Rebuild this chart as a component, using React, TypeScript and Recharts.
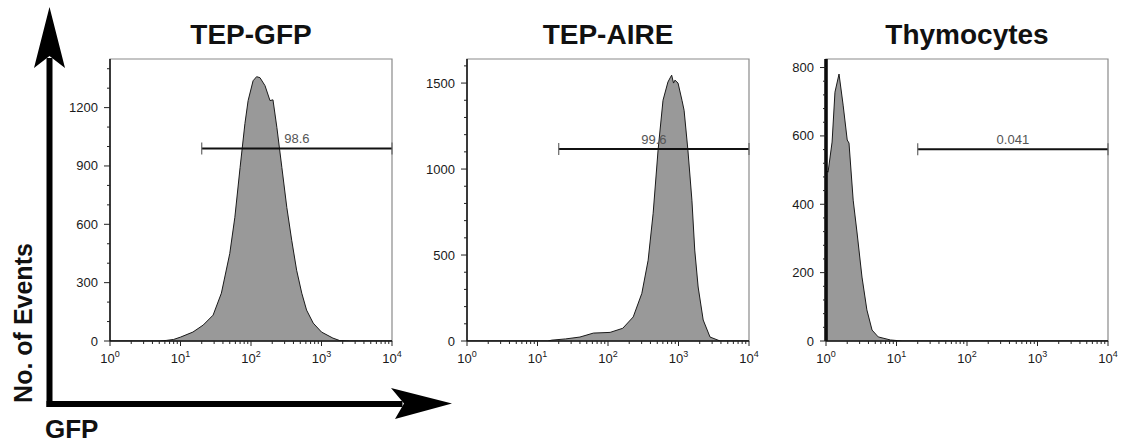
import { Area, ComposedChart, ReferenceArea, ReferenceLine, XAxis, YAxis } from 'recharts';

const FONT = '"Liberation Sans", Arial, Helvetica, sans-serif';

// GFP intensity (log axis) and event counts
const gfpTepGfp = [1, 5, 6.3, 8, 10, 15, 21, 29, 38, 50, 59, 70, 82, 91, 107, 120, 134, 158, 186, 205, 233, 274, 322, 378, 444, 525, 614, 763, 1000, 1450, 1820, 2500, 10000];
const countTepGfp = [0, 0, 3, 8, 20, 46, 82, 133, 246, 450, 636, 892, 1118, 1236, 1338, 1359, 1354, 1313, 1236, 1240, 1097, 892, 687, 518, 364, 246, 159, 92, 46, 15, 2, 0, 0];

const gfpTepAire = [1, 14, 16, 25, 40, 62, 107, 162, 228, 302, 371, 437, 513, 603, 708, 760, 800, 850, 891, 985, 1120, 1200, 1360, 1550, 1700, 1900, 2240, 2800, 3900, 10000];
const countTepAire = [0, 0, 5, 12, 23, 46, 50, 74, 140, 277, 470, 743, 1110, 1400, 1506, 1530, 1546, 1500, 1517, 1500, 1400, 1342, 1110, 819, 529, 314, 122, 23, 0, 0];

const gfpThymocytes = [1, 1.07, 1.22, 1.34, 1.53, 1.75, 2.0, 2.12, 2.43, 2.76, 3.24, 3.8, 4.5, 5.5, 8.2, 12, 10000];
const countThymocytes = [500, 494, 582, 728, 781, 690, 588, 579, 412, 316, 187, 91, 32, 12, 3, 0, 0];

const xTicks = [1, 2, 3, 4, 5, 6, 7, 8, 9, 10, 20, 30, 40, 50, 60, 70, 80, 90, 100, 200, 300, 400, 500, 600, 700, 800, 900, 1000, 2000, 3000, 4000, 5000, 6000, 7000, 8000, 9000, 10000];
const xMajor = [1, 10, 100, 1000, 10000];

const yTicksTepGfp = [0, 100, 200, 300, 400, 500, 600, 700, 800, 900, 1000, 1100, 1200, 1300, 1400];
const yMajorTepGfp = [0, 300, 600, 900, 1200];
const yTicksTepAire = [0, 100, 200, 300, 400, 500, 600, 700, 800, 900, 1000, 1100, 1200, 1300, 1400, 1500, 1600];
const yMajorTepAire = [0, 500, 1000, 1500];
const yTicksThymocytes = [0, 40, 80, 120, 160, 200, 240, 280, 320, 360, 400, 440, 480, 520, 560, 600, 640, 680, 720, 760, 800];
const yMajorThymocytes = [0, 200, 400, 600, 800];

const gateStart = 20;
const gateEnd = 10000;

const panels = [
  { title: 'TEP-GFP', x: gfpTepGfp, y: countTepGfp, yMax: 1450, yTicks: yTicksTepGfp, yMajor: yMajorTepGfp, gate: 990, gateLabel: '98.6', left: 50, pileUp: false },
  { title: 'TEP-AIRE', x: gfpTepAire, y: countTepAire, yMax: 1640, yTicks: yTicksTepAire, yMajor: yMajorTepAire, gate: 1116, gateLabel: '99.6', left: 407, pileUp: false },
  { title: 'Thymocytes', x: gfpThymocytes, y: countThymocytes, yMax: 825, yTicks: yTicksThymocytes, yMajor: yMajorThymocytes, gate: 561, gateLabel: '0.041', left: 766, pileUp: true },
];

const CHART_W = 360;
const CHART_H = 320;
const MARGIN = { top: 9, right: 18, bottom: 5, left: 10 };
const Y_AXIS_W = 50;
const PLOT_W = CHART_W - MARGIN.left - MARGIN.right - Y_AXIS_W;

function XTick(props: any) {
  const { x, y, payload } = props;
  const major = xMajor.includes(payload.value);
  return (
    <g>
      <line x1={x} x2={x} y1={y} y2={y + (major ? 5 : 3)} stroke="#222" strokeWidth={1} />
      {major && (
        <text x={x} y={y + 22} textAnchor="middle" fontSize={13} fill="#1a1a1a" fontFamily={FONT}>
          10
          <tspan dy={-6} fontSize={9}>
            {Math.round(Math.log10(payload.value))}
          </tspan>
        </text>
      )}
    </g>
  );
}

function YTick(props: any) {
  const { x, y, payload, majors } = props;
  const major = majors.includes(payload.value);
  return (
    <g>
      <line x1={x - (major ? 6 : 3)} x2={x} y1={y} y2={y} stroke="#222" strokeWidth={1} />
      {major && (
        <text x={x - 12} y={y + 4.5} textAnchor="end" fontSize={13} fill="#1a1a1a" fontFamily={FONT}>
          {payload.value}
        </text>
      )}
    </g>
  );
}

function GateShape(props: any) {
  const { x1, y1, x2, y2 } = props;
  return (
    <g>
      <line x1={x1} y1={y1} x2={x2} y2={y2} stroke="#111" strokeWidth={2} />
      <line x1={x1} y1={y1 - 6} x2={x1} y2={y1 + 6} stroke="#666" strokeWidth={1.2} />
      <line x1={x2} y1={y2 - 6} x2={x2} y2={y2 + 6} stroke="#666" strokeWidth={1.2} />
    </g>
  );
}

function Histogram({ panel }: { panel: (typeof panels)[number] }) {
  const data = panel.x.map((gfp, i) => ({ gfp, count: panel.y[i] }));
  return (
    <div style={{ position: 'absolute', left: panel.left, top: 50 }}>
      <ComposedChart width={CHART_W} height={CHART_H} data={data} margin={MARGIN}>
        <ReferenceArea x1={1} x2={10000} y1={0} y2={panel.yMax} fill="none" fillOpacity={0} stroke="#8a8a8a" strokeWidth={1.2} />
        <XAxis
          dataKey="gfp"
          type="number"
          scale="log"
          domain={[1, 10000]}
          ticks={xTicks}
          interval={0}
          allowDataOverflow
          tickSize={0}
          tickMargin={0}
          tickLine={false}
          height={24}
          axisLine={{ stroke: '#111', strokeWidth: 1.5 }}
          tick={(p: any) => <XTick {...p} />}
        />
        <YAxis
          type="number"
          domain={[0, panel.yMax]}
          ticks={panel.yTicks}
          interval={0}
          allowDataOverflow
          width={Y_AXIS_W}
          tickSize={0}
          tickMargin={0}
          tickLine={false}
          axisLine={{ stroke: '#111', strokeWidth: 1.5 }}
          tick={(p: any) => <YTick {...p} majors={panel.yMajor} />}
        />
        <Area
          dataKey="count"
          type="linear"
          baseValue={0}
          fill="#999999"
          fillOpacity={1}
          stroke="#1a1a1a"
          strokeWidth={1}
          isAnimationActive={false}
        />
        {panel.pileUp && <ReferenceLine x={1} stroke="#000" strokeWidth={3.5} />}
        <ReferenceLine
          segment={[
            { x: gateStart, y: panel.gate },
            { x: gateEnd, y: panel.gate },
          ]}
          shape={(p: any) => <GateShape {...p} />}
          label={{ value: panel.gateLabel, position: 'top', fontSize: 13, fill: '#555', fontFamily: FONT, offset: 5 }}
        />
      </ComposedChart>
      <div
        style={{
          position: 'absolute',
          left: MARGIN.left + Y_AXIS_W,
          top: -29,
          width: PLOT_W,
          textAlign: 'center',
          fontFamily: FONT,
          fontWeight: 'bold',
          fontSize: 28,
          lineHeight: '28px',
          color: '#111',
        }}
      >
        {panel.title}
      </div>
    </div>
  );
}

export default function App() {
  return (
    <div style={{ position: 'absolute', left: 0, top: 0, width: 1126, height: 446, background: '#fff', overflow: 'hidden' }}>
      <svg width={1126} height={446} style={{ position: 'absolute', left: 0, top: 0 }}>
        {/* big axis arrows */}
        <rect x={46.5} y={58} width={6} height={349} fill="#000" />
        <polygon points="49.5,7 65,68 49.5,56 34,68" fill="#000" />
        <rect x={46.5} y={401} width={356} height={6} fill="#000" />
        <polygon points="452,403.5 391,388 404,403.5 395,419" fill="#000" />
        <text
          x={23}
          y={323}
          transform="rotate(-90 23 323)"
          textAnchor="middle"
          dominantBaseline="central"
          fontFamily={FONT}
          fontWeight="bold"
          fontSize={25}
          fill="#111"
        >
          No. of Events
        </text>
        <text x={45} y={438} fontFamily={FONT} fontWeight="bold" fontSize={26} fill="#111">
          GFP
        </text>
      </svg>
      {panels.map((p) => (
        <Histogram key={p.title} panel={p} />
      ))}
    </div>
  );
}
